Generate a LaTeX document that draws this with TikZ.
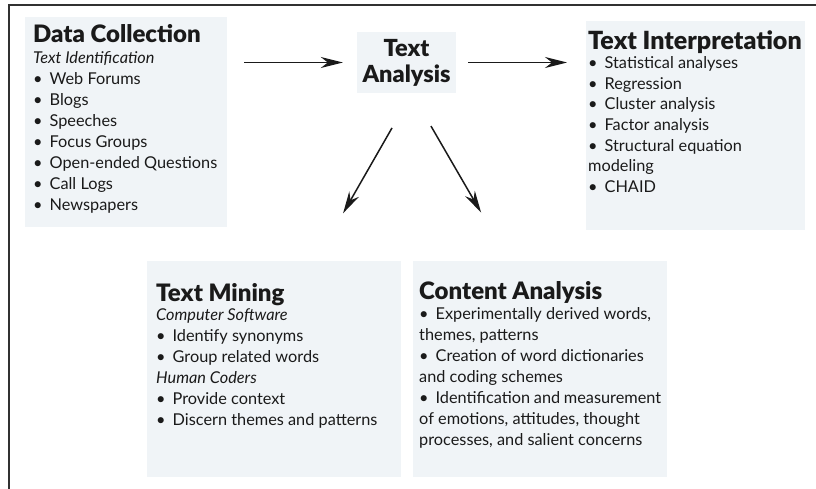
\documentclass[tikz,border=0pt]{standalone}
\usepackage{fontspec}
\setmainfont{Lato}
\newfontfamily\headfont{Lato Black}
\usetikzlibrary{arrows.meta}

\definecolor{panelbg}{HTML}{F0F4F7}
\definecolor{ink}{HTML}{1A1A1A}

% bullet with its gap
\newcommand{\blt}{\textbullet\hspace{7pt}}
% heading line of a panel, set off from the top edge
\newcommand{\headline}[3][24]{\rule{0pt}{#2}{\fontsize{#1}{#1}\headfont\selectfont #3}}

\begin{document}
\begin{tikzpicture}[
        x=1pt, y=-1pt,
        panel/.style={fill=panelbg, text=ink, anchor=north west, inner ysep=0pt, align=left},
        flow/.style={draw=ink, line width=1.5pt, -{Stealth[length=22pt, width=11pt, inset=7pt]}}
    ]
        \useasboundingbox (0,0) rectangle (816,489);

        % frame
        \draw[ink!90, line width=2pt] (9,489) -- (9,5) -- (816,5);

        % upper row
        \node[panel, inner xsep=8pt] (dc) at (25,17) {\parbox[c][210pt][t]{186pt}{\raggedright
            \fontsize{16.3}{21}\selectfont
            \headline{25pt}{Data Collection}\\
            \textit{Text Identification}\\
            \blt Web Forums\\
            \blt Blogs\\
            \blt Speeches\\
            \blt Focus Groups\\
            \blt Open-ended Questions\\
            \blt Call Logs\\
            \blt Newspapers}};

        \node[fill=panelbg, text=ink, inner sep=0pt, minimum width=99pt, minimum height=61pt] (ta) at (406.5,62.5)
            {\parbox{99pt}{\centering\fontsize{23.5}{26}\headfont\selectfont Text\\Analysis}};

        \node[panel, inner xsep=2pt] (ti) at (586,21) {\parbox[c][209pt][t]{215pt}{\raggedright
            \fontsize{16.3}{20.7}\selectfont
            \headline[25]{28pt}{Text Interpretation}\\[-1.5pt]
            \blt Statistical analyses\\
            \blt Regression\\
            \blt Cluster analysis\\
            \blt Factor analysis\\
            \blt Structural equation\\
            modeling\\
            \blt CHAID}};

        % lower row
        \node[panel, inner xsep=9pt] (tm) at (147,261) {\parbox[c][216pt][t]{236pt}{\raggedright
            \fontsize{16.3}{21}\selectfont
            \headline{40pt}{Text Mining}\\[-2pt]
            \textit{Computer Software}\\
            \blt Identify synonyms\\
            \blt Group related words\\
            \textit{Human Coders}\\
            \blt Provide context\\
            \blt Discern themes and patterns}};

        \node[panel, inner xsep=6pt] (ca) at (413,261) {\parbox[c][216pt][t]{242pt}{\raggedright
            \fontsize{16.3}{21}\selectfont
            \headline{38pt}{Content Analysis}\\[-1pt]
            \blt Experimentally derived words,\\
            themes, patterns\\
            \blt Creation of word dictionaries\\
            and coding schemes\\
            \blt Identification and measurement\\
            of emotions,\ attitudes, thought\\
            processes, and salient concerns}};

        % arrows
        \draw[flow, shorten <=17pt, shorten >=14pt] (dc.east |- ta.west) -- (ta.west);
        \draw[flow, shorten <=12pt, shorten >=19pt] (ta.east) -- (ti.west |- ta.east);
        \draw[flow, shorten <=40pt, shorten >=55pt] (ta.-80) -- (tm.69);
        \draw[flow, shorten <=38pt, shorten >=56pt] (ta.-80) -- (ca.106);
    \end{tikzpicture}
\end{document}
